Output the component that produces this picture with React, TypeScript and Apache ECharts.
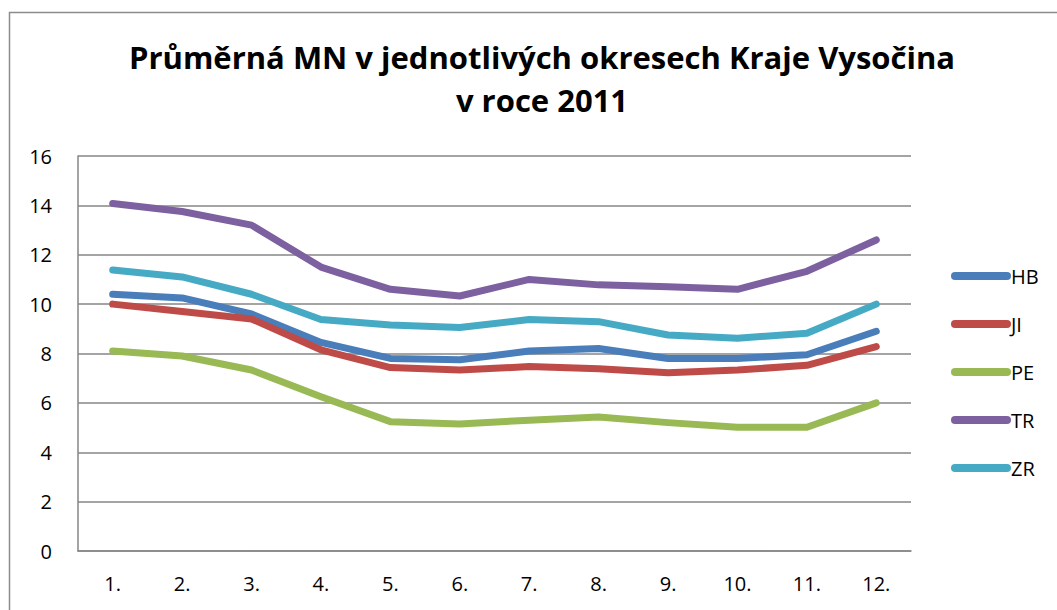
import React, { useEffect, useRef } from "react";
import * as echarts from "echarts";

const months = ["1.", "2.", "3.", "4.", "5.", "6.", "7.", "8.", "9.", "10.", "11.", "12."];
const seriesNames = ["HB", "JI", "PE", "TR", "ZR"];
const colors = ["#4A7EBB", "#BE4B48", "#98B954", "#7D60A0", "#46AAC5"];
const hb = [10.4, 10.25, 9.6, 8.45, 7.8, 7.75, 8.1, 8.2, 7.8, 7.8, 7.95, 8.9];
const ji = [10.0, 9.7, 9.4, 8.15, 7.43, 7.33, 7.47, 7.38, 7.22, 7.33, 7.52, 8.28];
const pe = [8.1, 7.9, 7.33, 6.25, 5.24, 5.14, 5.3, 5.43, 5.2, 5.01, 5.01, 6.0];
const tr = [14.08, 13.75, 13.2, 11.5, 10.6, 10.33, 11.0, 10.78, 10.7, 10.6, 11.33, 12.6];
const zr = [11.38, 11.1, 10.4, 9.38, 9.15, 9.05, 9.38, 9.29, 8.75, 8.62, 8.82, 10.0];
const yTicks = [0, 2, 4, 6, 8, 10, 12, 14, 16];

const FONT = "'Open Sans', 'Noto Sans', sans-serif";

export default function App() {
  const ref = useRef<HTMLDivElement>(null);
  useEffect(() => {
    if (!ref.current) return;
    const chart = echarts.init(ref.current, undefined, { renderer: "svg" });
    const data = [hb, ji, pe, tr, zr];
    chart.setOption({
      animation: false,
      backgroundColor: "#ffffff",
      title: {
        text: "Průměrná MN v jednotlivých okresech Kraje Vysočina\nv roce 2011",
        left: 537,
        top: 30,
        textAlign: "center",
        textStyle: {
          fontFamily: FONT,
          fontWeight: "bold",
          fontSize: 31,
          lineHeight: 43,
          color: "#000000",
        },
      },
      graphic: [
        {
          type: "rect",
          shape: { x: 9.5, y: 12.5, width: 1200, height: 800 },
          style: { fill: "none", stroke: "#8c8c8c", lineWidth: 1.5 },
          silent: true,
        },
      ],
      legend: {
        orient: "vertical",
        left: 946,
        top: 261,
        itemWidth: 60,
        itemHeight: 8,
        itemGap: 28,
        icon: "path://M4,0H56A4,4,0,0,1,56,8H4A4,4,0,0,1,4,0Z",
        data: seriesNames,
        textStyle: {
          fontFamily: FONT,
          fontSize: 20,
          color: "#000000",
          padding: [0, 0, 0, -5],
        },
      },
      grid: { left: 78, top: 156, width: 833, height: 395, containLabel: false },
      xAxis: {
        type: "category",
        data: months,
        boundaryGap: true,
        axisLine: { lineStyle: { color: "#868686", width: 1.5 } },
        axisTick: { show: false },
        axisLabel: { fontFamily: FONT, fontSize: 20, color: "#000000", margin: 22 },
        splitLine: { show: false },
      },
      yAxis: {
        type: "value",
        min: yTicks[0],
        max: yTicks[yTicks.length - 1],
        interval: 2,
        axisLine: { show: true, lineStyle: { color: "#868686", width: 1.5 } },
        axisTick: { show: false },
        axisLabel: { fontFamily: FONT, fontSize: 20, color: "#000000", margin: 26 },
        splitLine: { lineStyle: { color: "#868686", width: 1.5 } },
      },
      series: seriesNames.map((name, i) => ({
        name,
        type: "line",
        data: data[i],
        symbol: "none",
        color: colors[i],
        lineStyle: { width: 7, color: colors[i], cap: "round", join: "round" },
        itemStyle: { color: colors[i] },
      })),
    });
    return () => chart.dispose();
  }, []);
  return (
    <div
      ref={ref}
      style={{ position: "absolute", left: 0, top: 0, width: 1057, height: 610 }}
    />
  );
}
